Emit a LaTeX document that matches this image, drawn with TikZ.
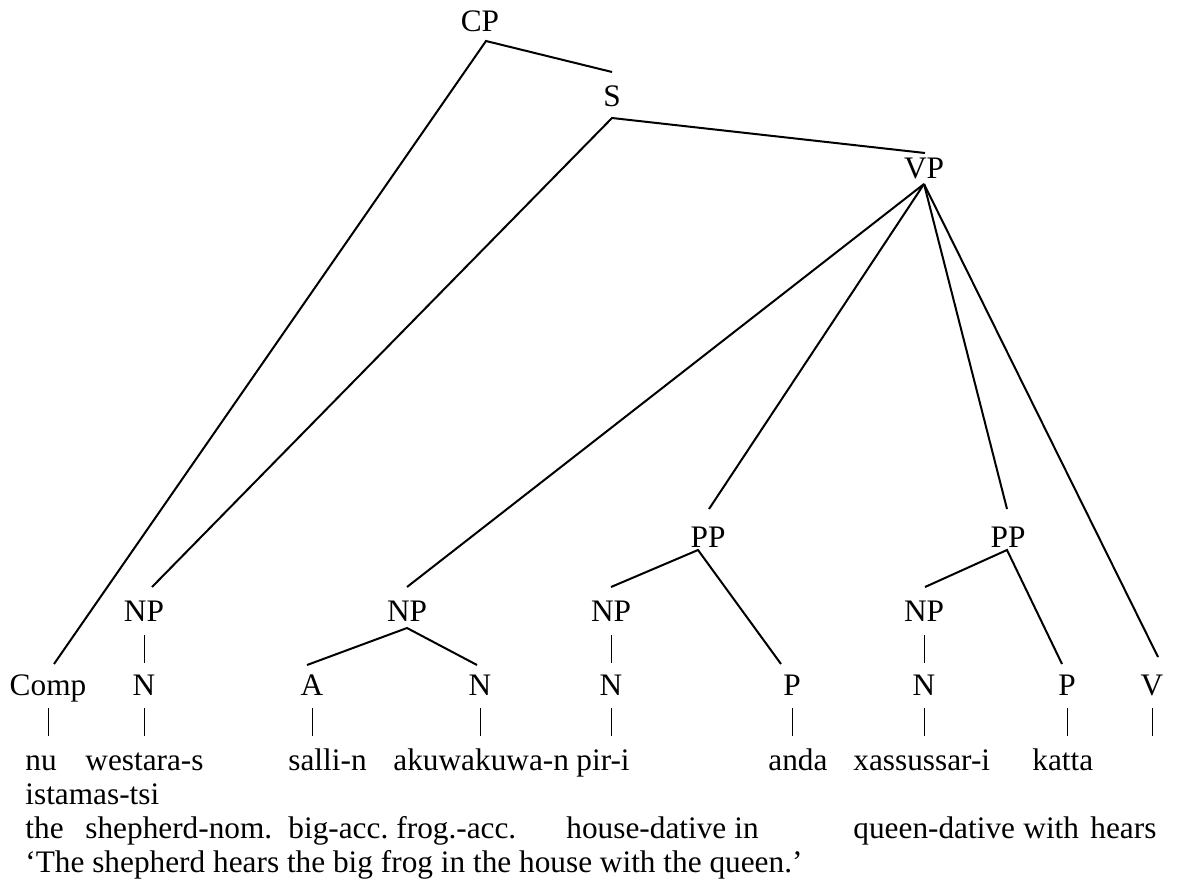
\documentclass[tikz,border=0pt]{standalone}
\usepackage{fontspec}
\setmainfont{Liberation Serif}
\begin{document}
\begin{tikzpicture}[x=0.5pt,y=-0.5pt,
  cat/.style={anchor=base,inner sep=0pt,font=\fontsize{15.65}{18}\selectfont},
  word/.style={anchor=base west,inner sep=0pt,font=\fontsize{15.65}{18}\selectfont},
  branch/.style={line width=1pt},
  bar/.style={line width=0.5pt}]
\useasboundingbox[fill=white] (0,0) rectangle (1197,888);
% category nodes
\node[cat] (cp) at (480,32) {CP};
\node[cat] (s) at (612,106) {S};
\node[cat] (vp) at (924,178) {VP};
\node[cat] (pp1) at (708,547) {PP};
\node[cat] (pp2) at (1008,547) {PP};
\node[cat] (np1) at (144,621) {NP};
\node[cat] (np2) at (407,621) {NP};
\node[cat] (np3) at (611,621) {NP};
\node[cat] (np4) at (924,621) {NP};
\node[cat] (comp) at (48,695) {Comp};
\node[cat] (n1) at (144,695) {N};
\node[cat] (a) at (312,695) {A};
\node[cat] (n2) at (480,695) {N};
\node[cat] (n3) at (611,695) {N};
\node[cat] (p1) at (792,695) {P};
\node[cat] (n4) at (924,695) {N};
\node[cat] (p2) at (1067,695) {P};
\node[cat] (v) at (1152,695) {V};
% words
\node[word] (w1) at (25,770) {nu};
\node[word] (w2) at (85,770) {westara-s};
\node[word] (w3) at (288,770) {salli-n};
\node[word] (w4) at (393,770) {akuwakuwa-n};
\node[word] (w5) at (576,770) {pir-i};
\node[word] (w6) at (768,770) {anda};
\node[word] (w7) at (853,770) {xassussar-i};
\node[word] (w8) at (1032,770) {katta};
\node[word] (w9) at (25,804) {istamas-tsi};
% glosses
\node[word] (g1) at (25,838) {the};
\node[word] (g2) at (85,838) {shepherd-nom.};
\node[word] (g3) at (288,838) {big-acc.};
\node[word] (g4) at (396,838) {frog.-acc.};
\node[word] (g5) at (566,838) {house-dative};
\node[word] (g6) at (734,838) {in};
\node[word] (g7) at (853,838) {queen-dative};
\node[word] (g8) at (1023,838) {with};
\node[word] (g9) at (1090,838) {hears};
\node[word] (tr) at (25,872) {‘The shepherd hears the big frog in the house with the queen.’};
% branches
\draw[branch] ([shift={(6,-31)}]comp.base) -- ([shift={(6,9)}]cp.base) -- ([shift={(0,-34)}]s.base);
\draw[branch] ([shift={(8,-34)}]np1.base) -- ([shift={(0,12)}]s.base) -- ([shift={(1,-25)}]vp.base);
\draw[branch] ([shift={(0,-34)}]np2.base) -- ([shift={(0,6)}]vp.base);
\draw[branch] ([shift={(1,-38)}]pp1.base) -- ([shift={(0,6)}]vp.base);
\draw[branch] ([shift={(-1,-38)}]pp2.base) -- ([shift={(0,6)}]vp.base);
\draw[branch] ([shift={(6,-38)}]v.base) -- ([shift={(0,6)}]vp.base);
\draw[branch] ([shift={(0,-34)}]np3.base) -- ([shift={(-10,3)}]pp1.base) -- ([shift={(-11,-31)}]p1.base);
\draw[branch] ([shift={(1,-34)}]np4.base) -- ([shift={(-1,3)}]pp2.base) -- ([shift={(-5,-31)}]p2.base);
\draw[branch] ([shift={(-5,-30)}]a.base) -- ([shift={(0,7)}]np2.base) -- ([shift={(-3,-30)}]n2.base);
% unary bars
\draw[bar] ([shift={(0,14)}]np1.base) -- ([shift={(0,-32)}]n1.base);
\draw[bar] ([shift={(0,14)}]np3.base) -- ([shift={(0,-32)}]n3.base);
\draw[bar] ([shift={(0,14)}]np4.base) -- ([shift={(0,-32)}]n4.base);
\foreach \c in {comp,n1,a,n2,n3,p1,n4,p2,v}
  \draw[bar] ([shift={(0,13)}]\c.base) -- ++(0,28);
\end{tikzpicture}
\end{document}
